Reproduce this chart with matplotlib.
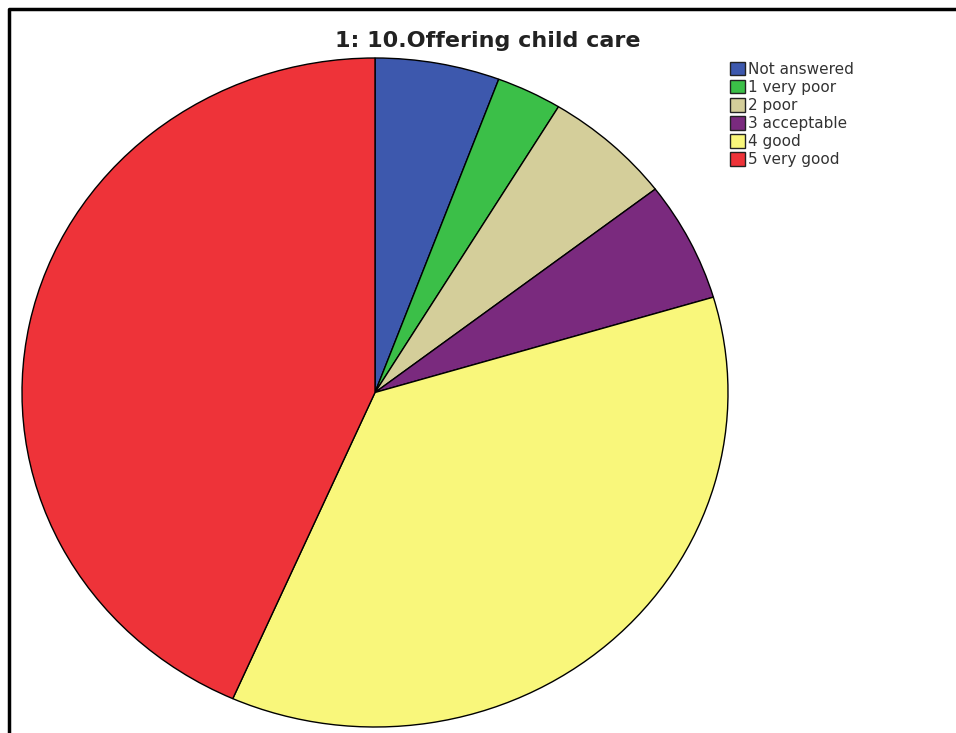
import numpy as np
import matplotlib
matplotlib.use("Agg")
import matplotlib.pyplot as plt
from matplotlib.patches import Patch
from matplotlib.lines import Line2D

labels = ["Not answered", "1 very poor", "2 poor", "3 acceptable", "4 good", "5 very good"]
percent = [5.7, 3.0, 5.9, 5.8, 36.2, 43.4]
colors = ["#3d58ad", "#3bbf48", "#d4ce9a", "#7a2a7e", "#f9f77b", "#ee3339"]

W, H = 956, 733
fig = plt.figure(figsize=(W / 100, H / 100), dpi=100)

# frame (left and top edges only, running off the picture)
fig.add_artist(Line2D([8.5 / W, 8.5 / W, 1.01], [-0.01, 1 - 8.5 / H, 1 - 8.5 / H],
                      transform=fig.transFigure, color="black", lw=2.5))

# pie is a little wider than tall in the reference, so no equal aspect
ax = fig.add_axes([22 / W, 6 / H, 706 / W, 669 / H])
ax.pie(percent, colors=colors, startangle=90, counterclock=False,
       wedgeprops={"edgecolor": "black", "linewidth": 1.0})
ax.set_aspect("auto")
ax.set_xlim(-1, 1)
ax.set_ylim(-1, 1)
ax.axis("off")

fig.text(488 / W, 1 - 41 / H, "1: 10.Offering child care", ha="center", va="center",
         fontsize=16, fontweight="bold", color="#222222")

handles = [Patch(facecolor=c, edgecolor="#222222", linewidth=1.0) for c in colors]
fig.legend(handles, labels, loc="upper left", bbox_to_anchor=(719 / W, 1 - 51 / H),
           frameon=False, fontsize=11, handlelength=1.0, handleheight=1.0,
           handletextpad=0.2, labelspacing=0.2, borderpad=0.2, labelcolor="#333333")

fig.savefig("out.png", dpi=100)
